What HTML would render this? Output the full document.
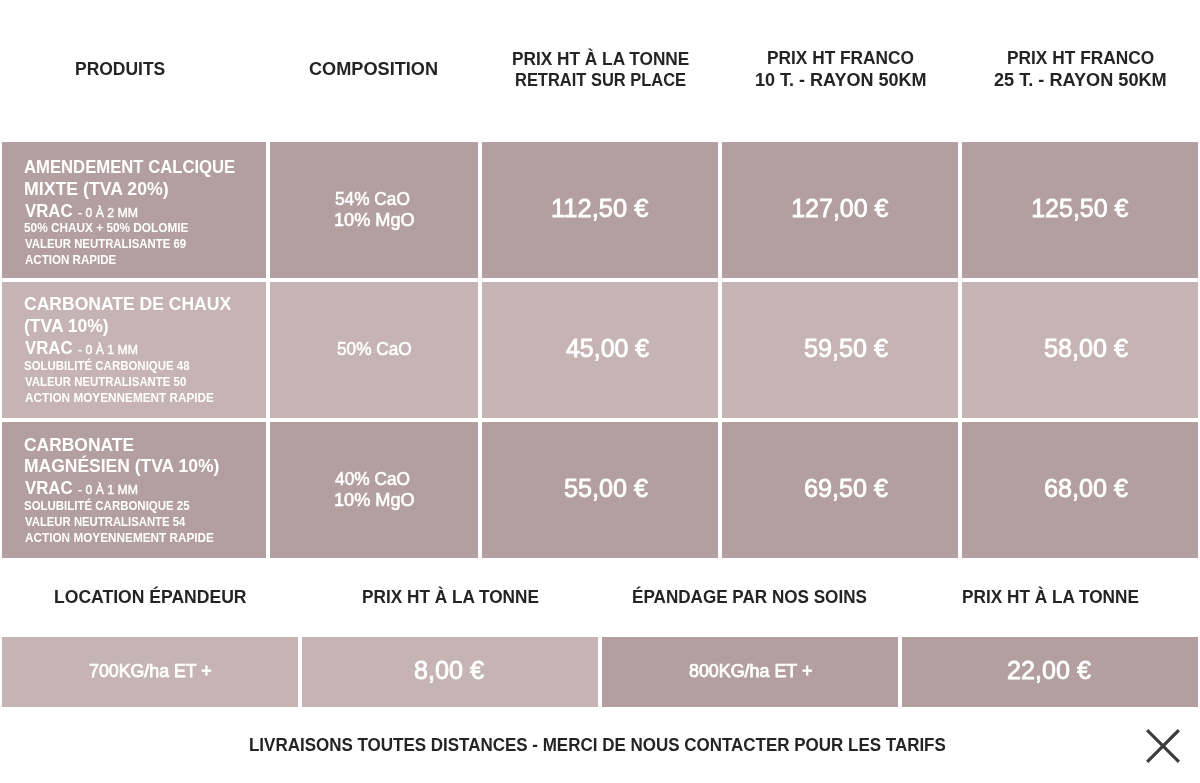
<!DOCTYPE html>
<html><head><meta charset="utf-8"><title>Tarifs</title>
<style>
html,body{margin:0;padding:0;background:#fff;width:1200px;height:783px;overflow:hidden}
body{position:relative;font-family:"Liberation Sans",sans-serif}
.r{position:absolute}
#tx{position:absolute;left:0;top:0;width:1200px;height:783px;will-change:transform}
.t{position:absolute;white-space:nowrap;font-weight:400;transform-origin:0 0}
</style></head><body>
<div class="r" style="left:2px;top:142px;width:264px;height:136px;background:#b39f9f"></div>
<div class="r" style="left:270px;top:142px;width:208px;height:136px;background:#b39f9f"></div>
<div class="r" style="left:482px;top:142px;width:236px;height:136px;background:#b39f9f"></div>
<div class="r" style="left:722px;top:142px;width:236px;height:136px;background:#b39f9f"></div>
<div class="r" style="left:962px;top:142px;width:236px;height:136px;background:#b39f9f"></div>
<div class="r" style="left:2px;top:282px;width:264px;height:136px;background:#c6b4b4"></div>
<div class="r" style="left:270px;top:282px;width:208px;height:136px;background:#c6b4b4"></div>
<div class="r" style="left:482px;top:282px;width:236px;height:136px;background:#c6b4b4"></div>
<div class="r" style="left:722px;top:282px;width:236px;height:136px;background:#c6b4b4"></div>
<div class="r" style="left:962px;top:282px;width:236px;height:136px;background:#c6b4b4"></div>
<div class="r" style="left:2px;top:422px;width:264px;height:136px;background:#b39f9f"></div>
<div class="r" style="left:270px;top:422px;width:208px;height:136px;background:#b39f9f"></div>
<div class="r" style="left:482px;top:422px;width:236px;height:136px;background:#b39f9f"></div>
<div class="r" style="left:722px;top:422px;width:236px;height:136px;background:#b39f9f"></div>
<div class="r" style="left:962px;top:422px;width:236px;height:136px;background:#b39f9f"></div>
<div class="r" style="left:2px;top:637px;width:296px;height:70px;background:#c6b4b4"></div>
<div class="r" style="left:302px;top:637px;width:296px;height:70px;background:#c6b4b4"></div>
<div class="r" style="left:602px;top:637px;width:296px;height:70px;background:#b39f9f"></div>
<div class="r" style="left:902px;top:637px;width:296px;height:70px;background:#b39f9f"></div>
<div id="tx">
<div class="t" style="left:75.33px;top:60px;font-weight:700;font-size:18px;line-height:18px;color:#242424;transform:scaleX(0.9703);">PRODUITS</div>
<div class="t" style="left:309.29px;top:60px;font-weight:700;font-size:18px;line-height:18px;color:#242424;transform:scaleX(1.0079);">COMPOSITION</div>
<div class="t" style="left:511.64px;top:50px;font-weight:700;font-size:18px;line-height:18px;color:#242424;transform:scaleX(0.9585);">PRIX HT À LA TONNE</div>
<div class="t" style="left:514.88px;top:71px;font-weight:700;font-size:18px;line-height:18px;color:#242424;transform:scaleX(0.9146);">RETRAIT SUR PLACE</div>
<div class="t" style="left:766.54px;top:49px;font-weight:700;font-size:18px;line-height:18px;color:#242424;transform:scaleX(0.9603);">PRIX HT FRANCO</div>
<div class="t" style="left:754.8px;top:71px;font-weight:700;font-size:18px;line-height:18px;color:#242424;transform:scaleX(1.0012);">10 T. - RAYON 50KM</div>
<div class="t" style="left:1006.53px;top:49px;font-weight:700;font-size:18px;line-height:18px;color:#242424;transform:scaleX(0.9623);">PRIX HT FRANCO</div>
<div class="t" style="left:993.69px;top:71px;font-weight:700;font-size:18px;line-height:18px;color:#242424;transform:scaleX(1.0077);">25 T. - RAYON 50KM</div>
<div class="t" style="left:24.37px;top:158px;font-weight:700;font-size:18px;line-height:18px;color:#fff;transform:scaleX(0.9265);">AMENDEMENT CALCIQUE</div>
<div class="t" style="left:24.32px;top:180px;font-weight:700;font-size:18px;line-height:18px;color:#fff;transform:scaleX(0.9841);">MIXTE (TVA 20%)</div>
<div class="t" style="left:25.3px;top:202px;font-weight:700;font-size:18.5px;line-height:18.5px;color:#fff;transform:scaleX(0.9077);">VRAC</div>
<div class="t" style="left:78.0px;top:207px;font-weight:400;font-size:12px;line-height:12px;color:#fff;-webkit-text-stroke:0.4px #fff;transform:scaleX(1.0207);">- 0 À 2 MM</div>
<div class="t" style="left:24.32px;top:222px;font-weight:700;font-size:12px;line-height:12px;color:#fff;transform:scaleX(0.9843);">50% CHAUX + 50% DOLOMIE</div>
<div class="t" style="left:25.3px;top:238px;font-weight:700;font-size:12px;line-height:12px;color:#fff;transform:scaleX(0.9491);">VALEUR NEUTRALISANTE 69</div>
<div class="t" style="left:25.3px;top:254px;font-weight:700;font-size:12px;line-height:12px;color:#fff;transform:scaleX(0.9649);">ACTION RAPIDE</div>
<div class="t" style="left:24.33px;top:295px;font-weight:700;font-size:18px;line-height:18px;color:#fff;transform:scaleX(0.9739);">CARBONATE DE CHAUX</div>
<div class="t" style="left:24.33px;top:317px;font-weight:700;font-size:18px;line-height:18px;color:#fff;transform:scaleX(0.9729);">(TVA 10%)</div>
<div class="t" style="left:25.3px;top:339px;font-weight:700;font-size:18.5px;line-height:18.5px;color:#fff;transform:scaleX(0.9077);">VRAC</div>
<div class="t" style="left:78.0px;top:344px;font-weight:400;font-size:12px;line-height:12px;color:#fff;-webkit-text-stroke:0.4px #fff;transform:scaleX(1.0207);">- 0 À 1 MM</div>
<div class="t" style="left:24.34px;top:360px;font-weight:700;font-size:12px;line-height:12px;color:#fff;transform:scaleX(0.9552);">SOLUBILITÉ CARBONIQUE 48</div>
<div class="t" style="left:25.3px;top:376px;font-weight:700;font-size:12px;line-height:12px;color:#fff;transform:scaleX(0.9497);">VALEUR NEUTRALISANTE 50</div>
<div class="t" style="left:25.3px;top:392px;font-weight:700;font-size:12px;line-height:12px;color:#fff;transform:scaleX(0.9807);">ACTION MOYENNEMENT RAPIDE</div>
<div class="t" style="left:24.33px;top:436px;font-weight:700;font-size:18px;line-height:18px;color:#fff;transform:scaleX(0.9683);">CARBONATE</div>
<div class="t" style="left:24.33px;top:457px;font-weight:700;font-size:18px;line-height:18px;color:#fff;transform:scaleX(0.9714);">MAGNÉSIEN (TVA 10%)</div>
<div class="t" style="left:25.3px;top:479px;font-weight:700;font-size:18.5px;line-height:18.5px;color:#fff;transform:scaleX(0.9077);">VRAC</div>
<div class="t" style="left:78.0px;top:484px;font-weight:400;font-size:12px;line-height:12px;color:#fff;-webkit-text-stroke:0.4px #fff;transform:scaleX(1.0207);">- 0 À 1 MM</div>
<div class="t" style="left:24.34px;top:500px;font-weight:700;font-size:12px;line-height:12px;color:#fff;transform:scaleX(0.9552);">SOLUBILITÉ CARBONIQUE 25</div>
<div class="t" style="left:25.3px;top:516px;font-weight:700;font-size:12px;line-height:12px;color:#fff;transform:scaleX(0.9441);">VALEUR NEUTRALISANTE 54</div>
<div class="t" style="left:25.3px;top:532px;font-weight:700;font-size:12px;line-height:12px;color:#fff;transform:scaleX(0.9807);">ACTION MOYENNEMENT RAPIDE</div>
<div class="t" style="left:334.7px;top:191px;font-weight:400;font-size:17.5px;line-height:17.5px;color:#fff;-webkit-text-stroke:0.55px #fff;transform:scaleX(0.9867);">54% CaO</div>
<div class="t" style="left:333.66px;top:212px;font-weight:400;font-size:17.5px;line-height:17.5px;color:#fff;-webkit-text-stroke:0.55px #fff;transform:scaleX(1.0368);">10% MgO</div>
<div class="t" style="left:337.1px;top:341px;font-weight:400;font-size:17.5px;line-height:17.5px;color:#fff;-webkit-text-stroke:0.55px #fff;transform:scaleX(0.9853);">50% CaO</div>
<div class="t" style="left:334.5px;top:471px;font-weight:400;font-size:17.5px;line-height:17.5px;color:#fff;-webkit-text-stroke:0.55px #fff;transform:scaleX(0.9893);">40% CaO</div>
<div class="t" style="left:333.66px;top:492px;font-weight:400;font-size:17.5px;line-height:17.5px;color:#fff;-webkit-text-stroke:0.55px #fff;transform:scaleX(1.0368);">10% MgO</div>
<div class="t" style="left:551.18px;top:196px;font-weight:400;font-size:25px;line-height:25px;color:#fff;-webkit-text-stroke:0.8px #fff;transform:scaleX(1.0213);">112,50 €</div>
<div class="t" style="left:791.2px;top:196px;font-weight:400;font-size:25px;line-height:25px;color:#fff;-webkit-text-stroke:0.8px #fff;">127,00 €</div>
<div class="t" style="left:1031.2px;top:196px;font-weight:400;font-size:25px;line-height:25px;color:#fff;-webkit-text-stroke:0.8px #fff;">125,50 €</div>
<div class="t" style="left:565.5px;top:336px;font-weight:400;font-size:25px;line-height:25px;color:#fff;-webkit-text-stroke:0.8px #fff;transform:scaleX(0.9964);">45,00 €</div>
<div class="t" style="left:804.49px;top:336px;font-weight:400;font-size:25px;line-height:25px;color:#fff;-webkit-text-stroke:0.8px #fff;transform:scaleX(1.0085);">59,50 €</div>
<div class="t" style="left:1044.49px;top:336px;font-weight:400;font-size:25px;line-height:25px;color:#fff;-webkit-text-stroke:0.8px #fff;transform:scaleX(1.0085);">58,00 €</div>
<div class="t" style="left:564.49px;top:476px;font-weight:400;font-size:25px;line-height:25px;color:#fff;-webkit-text-stroke:0.8px #fff;transform:scaleX(1.0085);">55,00 €</div>
<div class="t" style="left:804.49px;top:476px;font-weight:400;font-size:25px;line-height:25px;color:#fff;-webkit-text-stroke:0.8px #fff;transform:scaleX(1.0085);">69,50 €</div>
<div class="t" style="left:1044.49px;top:476px;font-weight:400;font-size:25px;line-height:25px;color:#fff;-webkit-text-stroke:0.8px #fff;transform:scaleX(1.0085);">68,00 €</div>
<div class="t" style="left:53.73px;top:588px;font-weight:700;font-size:18px;line-height:18px;color:#242424;transform:scaleX(0.9755);">LOCATION ÉPANDEUR</div>
<div class="t" style="left:362.04px;top:588px;font-weight:700;font-size:18px;line-height:18px;color:#242424;transform:scaleX(0.9563);">PRIX HT À LA TONNE</div>
<div class="t" style="left:632.45px;top:588px;font-weight:700;font-size:18px;line-height:18px;color:#242424;transform:scaleX(0.9496);">ÉPANDAGE PAR NOS SOINS</div>
<div class="t" style="left:962.04px;top:588px;font-weight:700;font-size:18px;line-height:18px;color:#242424;transform:scaleX(0.9563);">PRIX HT À LA TONNE</div>
<div class="t" style="left:89.4px;top:663px;font-weight:400;font-size:17.5px;line-height:17.5px;color:#fff;-webkit-text-stroke:0.75px #fff;transform:scaleX(1.0158);">700KG/ha ET +</div>
<div class="t" style="left:414.39px;top:658px;font-weight:400;font-size:25px;line-height:25px;color:#fff;-webkit-text-stroke:0.8px #fff;transform:scaleX(1.0088);">8,00 €</div>
<div class="t" style="left:689.0px;top:663px;font-weight:400;font-size:17.5px;line-height:17.5px;color:#fff;-webkit-text-stroke:0.75px #fff;transform:scaleX(1.0208);">800KG/ha ET +</div>
<div class="t" style="left:1007.49px;top:658px;font-weight:400;font-size:25px;line-height:25px;color:#fff;-webkit-text-stroke:0.8px #fff;transform:scaleX(1.0061);">22,00 €</div>
<div class="t" style="left:249.45px;top:736px;font-weight:700;font-size:18px;line-height:18px;color:#242424;transform:scaleX(0.9433);">LIVRAISONS TOUTES DISTANCES - MERCI DE NOUS CONTACTER POUR LES TARIFS</div>
<svg width="40" height="40" viewBox="0 0 40 40" style="position:absolute;left:1142.5px;top:725.5px"><path d="M5.3 5.3L34.7 34.7M34.7 5.3L5.3 34.7" stroke="#3c3c3c" stroke-width="3.2" stroke-linecap="square"/></svg>
</div>
</body></html>
